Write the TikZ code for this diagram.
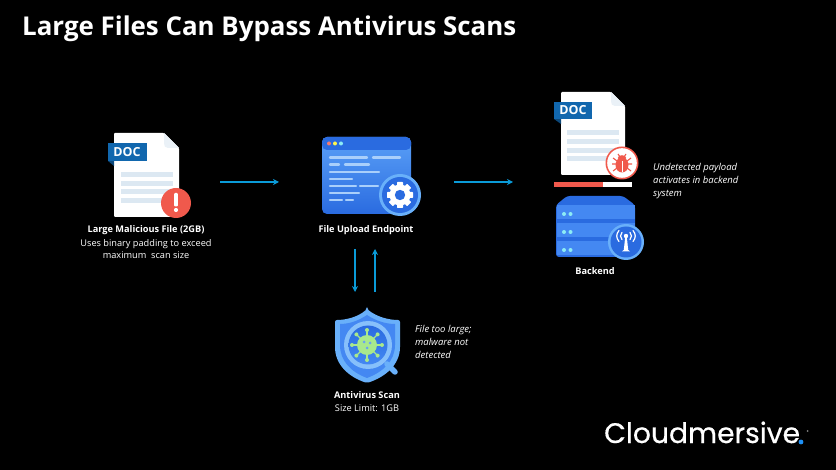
\documentclass[tikz,border=0pt]{standalone}
\usepackage{fontspec}
\setmainfont{Open Sans}
\newfontfamily\logofont[FakeBold=0.5]{Poppins}
\usetikzlibrary{arrows.meta,calc}
\definecolor{arrowblue}{HTML}{0A9BD8}
\definecolor{logodot}{HTML}{1E90F5}
\definecolor{docblue}{HTML}{1167AE}
\definecolor{lineblue}{HTML}{DCE8F2}
\definecolor{alertred}{HTML}{F0594C}
\definecolor{iconblue}{HTML}{4488F2}
\definecolor{icondark}{HTML}{2A6BE0}
\definecolor{iconlight}{HTML}{69B0FA}
\definecolor{barblue}{HTML}{A9CFFB}
\definecolor{cyandot}{HTML}{8CECF5}
\definecolor{virusgreen}{HTML}{A9E88C}
\tikzset{
  flow/.style={draw=arrowblue,line width=1.7pt,-{Stealth[length=6pt,width=6pt]}},
  label/.style={text=white,font=\fontsize{9.2}{12.6}\selectfont,align=center,inner sep=0pt},
  boldlabel/.style={label,font=\fontsize{9.2}{12.6}\selectfont\bfseries},
  note/.style={text=white,font=\fontsize{9.5}{12.6}\selectfont\itshape,align=left,inner sep=0pt},
  page/.style={fill=white,rounded corners=1pt},
  pagefold/.style={fill=lineblue!60!white},
  docline/.style={fill=lineblue},
  tab/.style={fill=docblue},
  doctext/.style={text=white,inner sep=0pt,font=\fontsize{12.5}{14}\selectfont\bfseries},
  barline/.style={draw=barblue,line width=2.4pt,line cap=round},
}
\begin{document}
\begin{tikzpicture}[x=1pt,y=-1pt]
\useasboundingbox (0,0) rectangle (836,470);
\fill[black] (0,0) rectangle (836,470);

% title
\node[anchor=base west,inner sep=0pt,text=white,font=\fontsize{25.9}{30}\selectfont\bfseries] (title) at (22,36) {Large Files Can Bypass Antivirus Scans};

% ---- left document
\path[page] (114,133) -- (164,133) -- (179,148) -- (179,217) -- (114,217) -- cycle;
\path[pagefold] (164,133) -- (179,148) -- (168,148) .. controls (165,148) and (164,146) .. (164,143) -- cycle;
\foreach \y in {172,181,189,198} \path[docline] (121,\y) rectangle (173,\y+5);
\path[fill=docblue!70!black] (108,161) -- (114,161) -- (114,166) -- cycle;
\path[tab] (108,143) rectangle (147,161);
\node[doctext] (doc1) at (127,152) {DOC};
\path[fill=alertred] (176,203) circle (15);
\path[fill=white,rounded corners=1pt] (174.2,193) rectangle (177.8,206.5);
\path[fill=white] (176,210) circle (2.1);
\node[boldlabel] (lmf) at (146,230) {Large Malicious File (2GB)};
\node[label] (lmfsub) at (146,249) {Uses binary padding to exceed\\maximum\ \ scan size};

% ---- upload window
\path[top color=iconlight!60!iconblue,bottom color=icondark,rounded corners=5pt] (322,137) rectangle (411,214);
\path[fill=icondark,rounded corners=5pt] (322,150) -- (322,137) -- (411,137) -- (411,150) -- cycle;
\path[fill=alertred!80!white] (329,143.5) circle (2);
\path[fill=yellow!70!white] (335,143.5) circle (2);
\path[fill=cyandot] (341,143.5) circle (2);
\foreach \xa/\xb/\y in {330/367/157.5,373/400/157.5,330/339/164.5,345/369/164.5,330/379/172,330/352/179,330/356/186,360/378/186,330/359/193,330/342/200,346/353/200}
  \draw[barline] (\xa,\y) -- (\xb,\y);
\path[fill=iconlight] (400,195) circle (21);
\path[fill=icondark] (400,195) circle (18);
\foreach \a in {0,45,...,315}
  \path[fill=white,shift={(400,195)},rotate=\a,rounded corners=0.6pt] (-3,-13) rectangle (3,0);
\path[fill=white] (400,195) circle (10.5);
\path[fill=icondark] (400,195) circle (5.2);
\node[boldlabel] (upload) at (366,230) {File Upload Endpoint};

% ---- right document
\path[page] (561,92) -- (611,92) -- (625,106) -- (625,175) -- (561,175) -- cycle;
\path[pagefold] (611,92) -- (625,106) -- (615,106) .. controls (612,106) and (611,104) .. (611,101) -- cycle;
\foreach \y in {130,139,148,156} \path[docline] (567,\y) rectangle (619,\y+5);
\path[fill=docblue!70!black] (554,119) -- (561,119) -- (561,124) -- cycle;
\path[tab] (554,102) rectangle (592,119);
\node[doctext] (doc2) at (573,110.5) {DOC};
\path[fill=alertred] (622,163) circle (16.5);
\path[fill=white] (622,163) circle (14.8);
\begin{scope}[shift={(622,163)}]
  \draw[alertred,line width=1.1pt] (-9,-5) -- (-5,-2) (9,-5) -- (5,-2) (-10,1) -- (10,1) (-9,8) -- (-5,5) (9,8) -- (5,5) (-4,-9) -- (-2,-6) (4,-9) -- (2,-6);
  \path[fill=alertred] (0,2) ellipse (6.5 and 7.5);
  \path[fill=alertred] (0,-5) ellipse (4.2 and 2.8);
  \draw[white,line width=0.5pt] (0,-2) -- (0,9.5);
\end{scope}
\path[fill=alertred] (554,182) rectangle (603,187);
\path[fill=white] (603,182) rectangle (632,187);

% ---- server
\path[fill=icondark,rounded corners=3pt] (556,205) -- (567,196) -- (623,196) -- (635,205) -- (635,257) -- (556,257) -- cycle;
\foreach \ya/\yb in {205/219,223/237,241/255}
  \path[fill=iconblue] (556.5,\ya) rectangle (634.5,\yb);
\foreach \y in {214,232,250} {
  \path[fill=cyandot] (564,\y) circle (2);
  \path[fill=cyandot] (570.5,\y) circle (2);
}
\path[fill=iconlight] (626,242) circle (18);
\path[fill=icondark] (626,242) circle (15.5);
\begin{scope}[shift={(626,242)}]
  \path[fill=white] (-0.9,-4) -- (0.9,-4) -- (2.2,8) -- (4.2,9.5) -- (-4.2,9.5) -- (-2.2,8) -- cycle;
  \path[fill=white] (0,-6) circle (2.2);
  \draw[white,line width=1.2pt,line cap=round] (-4,-9.5) .. controls (-6,-7.5) and (-6,-4.5) .. (-4,-2.5);
  \draw[white,line width=1.2pt,line cap=round] (4,-9.5) .. controls (6,-7.5) and (6,-4.5) .. (4,-2.5);
  \draw[white,line width=1.2pt,line cap=round] (-7,-11.5) .. controls (-10,-8) and (-10,-4) .. (-7,-0.5);
  \draw[white,line width=1.2pt,line cap=round] (7,-11.5) .. controls (10,-8) and (10,-4) .. (7,-0.5);
\end{scope}
\node[boldlabel] (backend) at (595,271) {Backend};
\node[note,anchor=north west] (payload) at (653,163.5) {Undetected payload\\activates in backend\\system};

% ---- shield
\path[fill=iconlight,rounded corners=2pt] (367,309) .. controls (377,317) and (389,320) .. (400,320) -- (400,345) .. controls (400,365) and (385,377) .. (367,383) .. controls (349,377) and (335,365) .. (335,345) -- (335,320) .. controls (346,320) and (358,317) .. (367,309) -- cycle;
\path[fill=iconblue] (367,315) .. controls (376,321) and (386,324) .. (395,324) -- (395,345) .. controls (395,361) and (383,372) .. (367,378) .. controls (351,372) and (340,361) .. (340,345) -- (340,324) .. controls (349,324) and (358,321) .. (367,315) -- cycle;
\draw[iconlight,line width=5.5pt,line cap=round] (387,364) -- (395,372);
\path[fill=iconlight!80!white] (368,345) circle (24);
\path[top color=icondark,bottom color=iconblue] (368,345) circle (19.5);
\begin{scope}[shift={(367,345)}]
  \foreach \a in {0,45,...,315} {
    \draw[virusgreen,line width=1.2pt,rotate=\a] (0,0) -- (15,0);
    \path[fill=virusgreen,rotate=\a] (15,0) circle (2);
  }
  \path[fill=virusgreen] (0,0) circle (10);
  \path[fill=iconblue!80!white] (-3,-3) circle (1.5) (3,-2) circle (1.5) (0,3) circle (1.5);
\end{scope}
\node[boldlabel] (av) at (367,395) {Antivirus Scan};
\node[label] (avsub) at (367,408) {Size Limit: 1GB};
\node[note,anchor=north west] (toolarge) at (415,325.5) {File too large;\\malware not\\detected};

% ---- connectors
\coordinate (a1s) at (220,182); \coordinate (a1e) at (279,182);
\coordinate (a2s) at (454,182); \coordinate (a2e) at (513,182);
\coordinate (a3s) at (355,249); \coordinate (a3e) at (355,292);
\coordinate (a4s) at (375,292); \coordinate (a4e) at (375,249);
\draw[flow] (a1s) -- (a1e);
\draw[flow] (a2s) -- (a2e);
\draw[flow] (a3s) -- (a3e);
\draw[flow] (a4s) -- (a4e);

% ---- logo
\node[anchor=base west,inner sep=0pt,text=white,font=\logofont\fontsize{28.2}{32}\selectfont] (logo) at (604,443) {Cloudmersive};
\path[fill=logodot] (801,442) circle (2.4);
\path[fill=gray] (807.5,431) circle (1);
\end{tikzpicture}
\end{document}
